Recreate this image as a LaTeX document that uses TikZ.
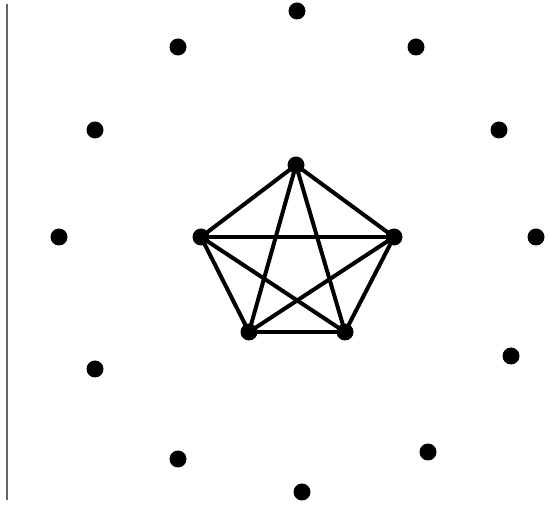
\documentclass[tikz,border=0pt]{standalone}
\begin{document}
\begin{tikzpicture}[x=1pt,y=-1pt,
  dot/.style={circle,fill=black,inner sep=0pt,minimum size=17pt},
  edge/.style={line width=4pt,black}]
\useasboundingbox (0,0) rectangle (550,505);
\draw[gray!80!black,line width=1.2pt] (7,4) coordinate (la) -- (7,500) coordinate (lb);
% outer dots
\foreach \n/\x/\y in {o1/297/11,o2/178/47,o3/416/47,o4/95/130,o5/499/130,o6/59/237,o7/536/237,o8/95/369,o9/511/356,o10/178/459,o11/428/452,o12/302/492}
  \node[dot] (\n) at (\x,\y) {};
% inner pentagon
\coordinate (a) at (296,165);
\coordinate (b) at (201,237);
\coordinate (c) at (394,237);
\coordinate (d) at (249,332);
\coordinate (e) at (345,332);
\foreach \u/\v in {a/b,a/c,a/d,a/e,b/c,b/d,b/e,c/d,c/e,d/e}
  \draw[edge] (\u) -- (\v);
\foreach \n in {a,b,c,d,e}
  \node[dot] (n\n) at (\n) {};
\end{tikzpicture}
\end{document}
